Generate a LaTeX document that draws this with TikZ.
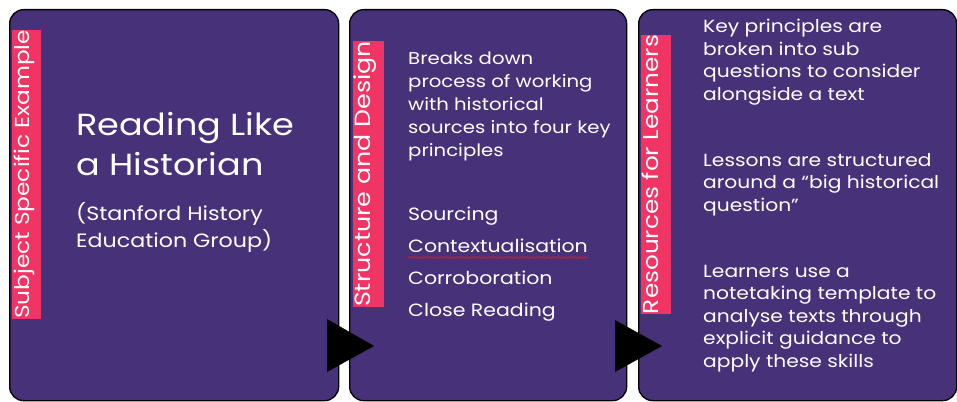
\documentclass[tikz,border=0pt]{standalone}
\usepackage{fontspec}
\setmainfont{Poppins}[FakeStretch=1.15]
\usetikzlibrary{decorations.pathmorphing}

\definecolor{panelpurple}{RGB}{71,49,120}
\definecolor{tabpink}{RGB}{240,52,100}
\definecolor{spellred}{RGB}{225,30,30}

\newcommand{\titlefont}{\fontsize{30.5}{40}\selectfont}
\newcommand{\subfont}{\fontsize{19.3}{27}\selectfont}
\newcommand{\introfont}{\fontsize{17.1}{23}\selectfont}
\newcommand{\listfont}{\fontsize{17.8}{32}\selectfont}
\newcommand{\resfont}{\fontsize{17.6}{22.5}\selectfont}

\begin{document}
\begin{tikzpicture}[x=1pt,y=-1pt,
  panel/.style={draw=black, line width=1.3pt, fill=panelpurple,
    rounded corners=14pt, inner sep=0pt, anchor=north west},
  tab/.style={fill=tabpink, text=white, rotate=90, inner sep=0pt,
    text height=0.72em, text depth=0.22em},
  txt/.style={anchor=base west, inner sep=0pt, text=white},
  pointer/.style={fill=black},
  spell/.style={draw=spellred, line width=0.6pt,
    decorate, decoration={snake, amplitude=0.9pt, segment length=3.2pt}}]

\useasboundingbox (0,0) rectangle (957,401);

% three panels
\node[panel, minimum width=329pt, minimum height=391pt] (p1) at (9,9) {};
\node[panel, minimum width=277pt, minimum height=391pt] (p2) at (349,9) {};
\node[panel, minimum width=318pt, minimum height=391pt] (p3) at (638,9) {};

% vertical heading tabs
\node[tab, font=\fontsize{20.2}{24}\selectfont, minimum width=287pt, minimum height=29pt]
  (h1) at (26.5,174.5) {Subject Specific Example};
\node[tab, font=\fontsize{22}{26}\selectfont, minimum width=262pt, minimum height=31pt]
  (h2) at (368,174) {Structure and Design};
\node[tab, font=\fontsize{21.5}{26}\selectfont, minimum width=275pt, minimum height=30pt]
  (h3) at (656,174.5) {Resources for Learners};

% panel 1
\node[txt, font=\titlefont] (title) at (76,135)
  {\begin{tabular}[t]{@{}l@{}}Reading Like\\a Historian\end{tabular}};
\node[txt, font=\subfont] (source) at (76,220)
  {\begin{tabular}[t]{@{}l@{}}(Stanford History\\Education Group)\end{tabular}};

% panel 2
\node[txt, font=\introfont] (intro) at (408,65)
  {\begin{tabular}[t]{@{}l@{}}Breaks down\\process of working\\with historical\\sources into four key\\principles\end{tabular}};
\node[txt, font=\listfont] (steps) at (408,220)
  {\begin{tabular}[t]{@{}l@{}}Sourcing\\Contextualisation\\Corroboration\\Close Reading\end{tabular}};
\coordinate (wl) at (408,257.5);
\coordinate (wr) at (588,257.5);
\draw[spell] (wl) -- (wr);

% panel 3
\node[txt, font=\resfont] (r1) at (703,33)
  {\begin{tabular}[t]{@{}l@{}}Key principles are\\broken into sub\\questions to consider\\alongside a text\end{tabular}};
\node[txt, font=\resfont] (r2) at (703,166)
  {\begin{tabular}[t]{@{}l@{}}Lessons are structured\\around a “big historical\\question”\end{tabular}};
\node[txt, font=\resfont] (r3) at (703,277)
  {\begin{tabular}[t]{@{}l@{}}Learners use a\\notetaking template to\\analyse texts through\\explicit guidance to\\apply these skills\end{tabular}};

% pointers between panels
\coordinate (a1t) at (327,319);
\coordinate (a1p) at (374,346);
\coordinate (a1b) at (327,372);
\fill[pointer] (a1t) -- (a1p) -- (a1b) -- cycle;
\coordinate (a2t) at (615,320);
\coordinate (a2p) at (662,346);
\coordinate (a2b) at (615,372);
\fill[pointer] (a2t) -- (a2p) -- (a2b) -- cycle;
\end{tikzpicture}
\end{document}
